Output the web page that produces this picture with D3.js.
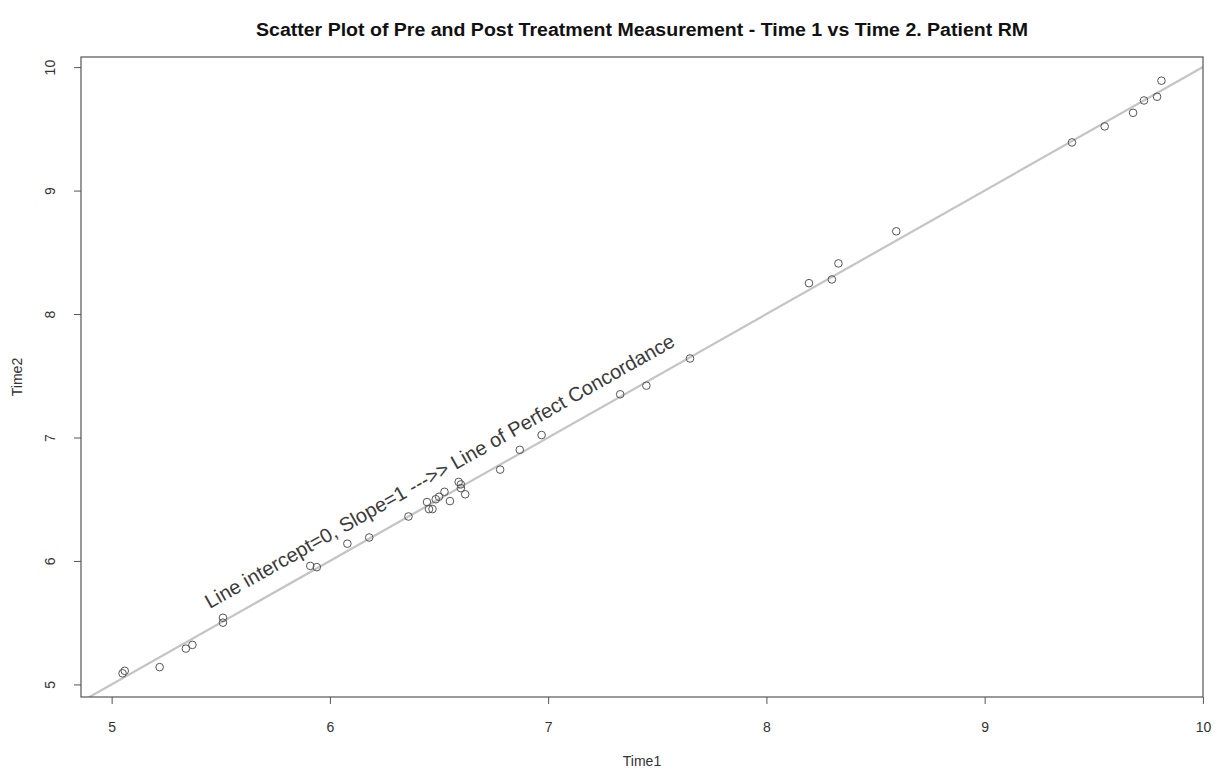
<!DOCTYPE html>
<html>
<head>
  <style>
    body { margin: 0; background: #fff; font-family: "Liberation Sans", Arial, sans-serif; }
    .title { font-weight: bold; font-size: 18px; fill: #111; }
    .tick-label { font-size: 14px; fill: #333; }
    .axis-title { font-size: 14px; fill: #333; }
    .note { font-size: 20px; fill: #3a3a3a; }
  </style>
  <script src="https://d3js.org/d3.v7.min.js"></script>
</head>
<body>
<div class="chart"></div>
<script>
const time1 = [5.06, 5.05, 5.22, 5.34, 5.37, 5.51, 5.51, 5.91, 5.94, 6.08, 6.18, 6.36,
  6.445, 6.454, 6.47, 6.485, 6.50, 6.525, 6.55, 6.59, 6.60, 6.60, 6.62, 6.78, 6.87,
  6.97, 7.33, 7.45, 7.65, 8.195, 8.30, 8.33, 8.595, 9.40, 9.55, 9.68, 9.73, 9.79, 9.81];
const time2 = [5.11, 5.09, 5.14, 5.29, 5.32, 5.50, 5.54, 5.96, 5.95, 6.14, 6.19, 6.36,
  6.477, 6.42, 6.42, 6.50, 6.52, 6.56, 6.485, 6.64, 6.62, 6.59, 6.54, 6.74, 6.90,
  7.02, 7.35, 7.42, 7.64, 8.25, 8.28, 8.41, 8.67, 9.39, 9.52, 9.63, 9.73, 9.76, 9.89];
const xTicks = [5, 6, 7, 8, 9, 10];
const yTicks = [5, 6, 7, 8, 9, 10];
const lineIntercept = 0, lineSlope = 1;
const titleText = 'Scatter Plot of Pre and Post Treatment Measurement - Time 1 vs Time 2. Patient RM';
const noteText = 'Line intercept=0, Slope=1 --->> Line of Perfect Concordance';
const notePos = [5.45, 5.61];

const width = 1224, height = 777;
const box = {left: 81, right: 1203, top: 57, bottom: 697};

const svg = d3.select('.chart').append('svg')
  .attr('width', width)
  .attr('height', height);

// R style 4% padding around the data range
function padded(vals){
  const [a, b] = d3.extent(vals);
  const p = (b - a) * 0.04;
  return [a - p, b + p];
}

const x = d3.scaleLinear().domain(padded(time1)).range([box.left, box.right]);
const y = d3.scaleLinear().domain(padded(time2)).range([box.bottom, box.top]);

svg.append('defs').append('clipPath').attr('id', 'plot-clip')
  .append('rect')
  .attr('x', box.left).attr('y', box.top)
  .attr('width', box.right - box.left).attr('height', box.bottom - box.top);

// line of perfect concordance
const [x0, x1] = x.domain();
svg.append('line')
  .attr('clip-path', 'url(#plot-clip)')
  .attr('x1', x(x0)).attr('y1', y(lineIntercept + lineSlope * x0))
  .attr('x2', x(x1)).attr('y2', y(lineIntercept + lineSlope * x1))
  .attr('stroke', '#c4c4c4')
  .attr('stroke-width', 2.2);

svg.append('g')
  .selectAll('circle')
  .data(time1.map((v, i) => [v, time2[i]]))
  .join('circle')
    .attr('cx', d => x(d[0]))
    .attr('cy', d => y(d[1]))
    .attr('r', 3.8)
    .attr('fill', 'none')
    .attr('stroke', '#555')
    .attr('stroke-width', 1);

// frame
svg.append('rect')
  .attr('x', box.left).attr('y', box.top)
  .attr('width', box.right - box.left).attr('height', box.bottom - box.top)
  .attr('fill', 'none')
  .attr('stroke', '#555')
  .attr('stroke-width', 1.2);

// x axis
const xAxis = svg.append('g').attr('transform', `translate(0,${box.bottom})`)
  .call(d3.axisBottom(x).tickValues(xTicks).tickSize(7).tickPadding(18).tickFormat(d3.format('d')));
xAxis.select('.domain').remove();
xAxis.selectAll('line').attr('stroke', '#555');
xAxis.selectAll('text').attr('class', 'tick-label').attr('font-size', null).attr('font-family', null).attr('fill', null);

// y axis
const yAxis = svg.append('g').attr('transform', `translate(${box.left},0)`)
  .call(d3.axisLeft(y).tickValues(yTicks).tickSize(7).tickFormat(d3.format('d')));
yAxis.select('.domain').remove();
yAxis.selectAll('line').attr('stroke', '#555');
yAxis.selectAll('text')
  .attr('class', 'tick-label').attr('font-size', null).attr('font-family', null).attr('fill', null)
  .attr('x', null).attr('dy', null)
  .attr('text-anchor', 'middle')
  .attr('transform', 'translate(-31,0) rotate(-90)')
  .attr('dominant-baseline', 'central');

svg.append('text')
  .attr('class', 'title')
  .attr('x', (box.left + box.right) / 2)
  .attr('y', 36)
  .attr('text-anchor', 'middle')
  .attr('textLength', 772)
  .attr('lengthAdjust', 'spacingAndGlyphs')
  .text(titleText);

svg.append('text')
  .attr('class', 'axis-title')
  .attr('x', (box.left + box.right) / 2)
  .attr('y', 766)
  .attr('text-anchor', 'middle')
  .text('Time1');

svg.append('text')
  .attr('class', 'axis-title')
  .attr('transform', `translate(22,${(box.top + box.bottom) / 2}) rotate(-90)`)
  .attr('text-anchor', 'middle')
  .text('Time2');

// annotation along the line
const angle = -Math.atan2(y(0) - y(1), x(1) - x(0)) * 180 / Math.PI;
svg.append('text')
  .attr('class', 'note')
  .attr('transform', `translate(${x(notePos[0])},${y(notePos[1])}) rotate(${angle})`)
  .text(noteText);
</script>
</body>
</html>
